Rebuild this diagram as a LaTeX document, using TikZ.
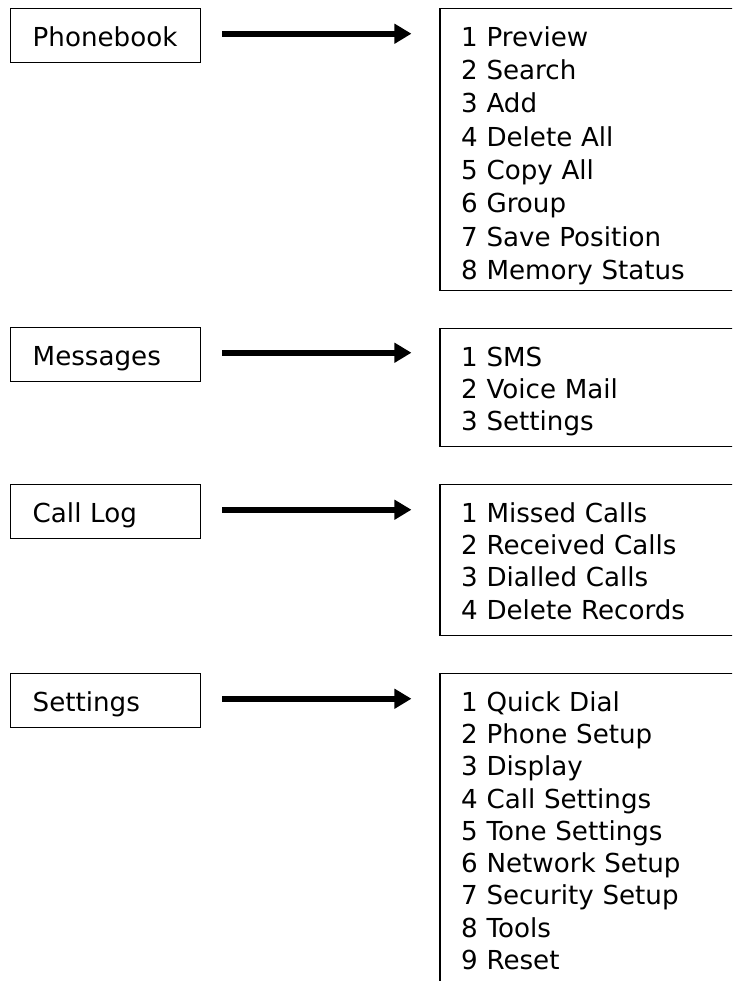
\documentclass[tikz,border=0pt]{standalone}
\usepackage{fontspec}
\setmainfont{DejaVu Sans}
\usetikzlibrary{arrows.meta, positioning}
\tikzset{
  item_font/.style = {font=\fontsize{19.6pt}{24.2pt}\selectfont},
  wide_font/.style = {font=\fontsize{19.6pt}{25pt}\selectfont},
  frame/.style = {draw, line width=1.1pt, anchor=north west, align=left, inner ysep=0}
}
\tikzset{
  entry/.style = {frame, item_font, text width=109.5pt, inner xsep=16.5pt, text height=28.5pt, text depth=12pt},
  menu/.style = {frame, item_font, text width=198.75pt, inner xsep=15.75pt, text height=28.1pt},
  flow/.style = {line width=4.6pt, -{Triangle[length=12.75pt, width=14.25pt]}}
}

\begin{document}
\begin{tikzpicture}[x=0.75pt, y=-0.75pt]
    \useasboundingbox (0,0) rectangle (732,981);
    \clip (0,0) rectangle (732,981);

    % Main menu
    \node[entry] at (10,8) (pb) {Phonebook};
    \node[entry] at (10,327) (msg) {Messages};
    \node[entry] at (10,484) (log) {Call Log};
    \node[entry] at (10,673) (set) {Settings};

    % Sub menus
    \node[menu, wide_font, text depth=183.4pt] at ([xshift=178.5pt]pb.north east) (pb_menu) {
        1 Preview \\ 2 Search \\ 3 Add \\ 4 Delete All \\
        5 Copy All \\ 6 Group \\ 7 Save Position \\ 8 Memory Status
        };
    \node[menu, text depth=60.4pt] at ([xshift=178.5pt, yshift=-0.75pt]msg.north east) (msg_menu) {
        1 SMS \\ 2 Voice Mail \\ 3 Settings
        };
    \node[menu, text depth=85.1pt] at ([xshift=178.5pt]log.north east) (log_menu) {
        1 Missed Calls \\ 2 Received Calls \\ 3 Dialled Calls \\ 4 Delete Records
        };
    \node[menu, text depth=247.5pt] at ([xshift=178.5pt]set.north east) (set_menu) {
        1 Quick Dial \\ 2 Phone Setup \\ 3 Display \\ 4 Call Settings \\
        5 Tone Settings \\ 6 Network Setup \\ 7 Security Setup \\ 8 Tools \\ 9 Reset
        };

    % Arrows
    \draw[flow] ([xshift=15.75pt, yshift=1.5pt]pb.east) -- ([xshift=-21pt, yshift=1.5pt]pb.east -| pb_menu.west);
    \draw[flow] ([xshift=15.75pt, yshift=1.5pt]msg.east) -- ([xshift=-21pt, yshift=1.5pt]msg.east -| msg_menu.west);
    \draw[flow] ([xshift=15.75pt, yshift=1.5pt]log.east) -- ([xshift=-21pt, yshift=1.5pt]log.east -| log_menu.west);
    \draw[flow] ([xshift=15.75pt, yshift=1.5pt]set.east) -- ([xshift=-21pt, yshift=1.5pt]set.east -| set_menu.west);
\end{tikzpicture}
\end{document}
